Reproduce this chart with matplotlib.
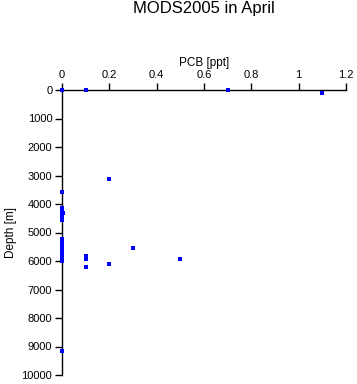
import matplotlib
matplotlib.use("Agg")
import matplotlib.pyplot as plt

plt.rcParams['font.family'] = ['Liberation Sans', 'DejaVu Sans']

pcb = [0.0, 0.1, 0.7, 1.1, 0.2, 0.0,
       0.0, 0.0, 0.0, 0.0, 0.0, 0.0, 0.0, 0.0, 0.005,
       0.0, 0.0, 0.0, 0.0, 0.0, 0.0, 0.0, 0.0, 0.0, 0.0, 0.0, 0.0, 0.0, 0.0, 0.0, 0.0, 0.0,
       0.3, 0.1, 0.1, 0.1, 0.2, 0.5, 0.0]
depth = [0, 0, 0, 105, 3120, 3580,
         4150, 4200, 4250, 4300, 4350, 4400, 4450, 4550, 4300,
         5230, 5280, 5330, 5380, 5430, 5480, 5530, 5580, 5630, 5680, 5730, 5780, 5830, 5880, 5930, 5980, 6000,
         5540, 5820, 5940, 6210, 6090, 5930, 9160]

xticks = [0, 0.2, 0.4, 0.6, 0.8, 1, 1.2]
xticklabels = ['0', '0.2', '0.4', '0.6', '0.8', '1', '1.2']
yticks = [0, 1000, 2000, 3000, 4000, 5000, 6000, 7000, 8000, 9000, 10000]

fig = plt.figure(figsize=(3.57, 3.84), dpi=100)
ax = fig.add_axes([62/357, 1 - 375/384, (346-62)/357, (375-90)/384])
ax.plot(pcb, depth, linestyle='none', marker='s', markersize=2.2,
        color='#0000ff', markeredgewidth=0, clip_on=False, zorder=4)
ax.set_xlim(0, 1.2)
ax.set_ylim(10000, 0)
ax.xaxis.tick_top()
ax.xaxis.set_label_position('top')
ax.set_xticks(xticks)
ax.set_xticklabels(xticklabels)
ax.set_yticks(yticks)
ax.set_xlabel('PCB [ppt]', fontsize=8.5, labelpad=3)
ax.set_ylabel('Depth [m]', fontsize=8.5, labelpad=3)
ax.tick_params(axis='both', labelsize=8, direction='out', length=5, width=1, pad=2)
for s in ['right', 'bottom']:
    ax.spines[s].set_visible(False)
for s in ['left', 'top']:
    ax.spines[s].set_linewidth(1)
fig.text(204/357, 1 - 9/384, 'MODS2005 in April', ha='center', va='center', fontsize=12)
fig.savefig('out.png', dpi=100)
